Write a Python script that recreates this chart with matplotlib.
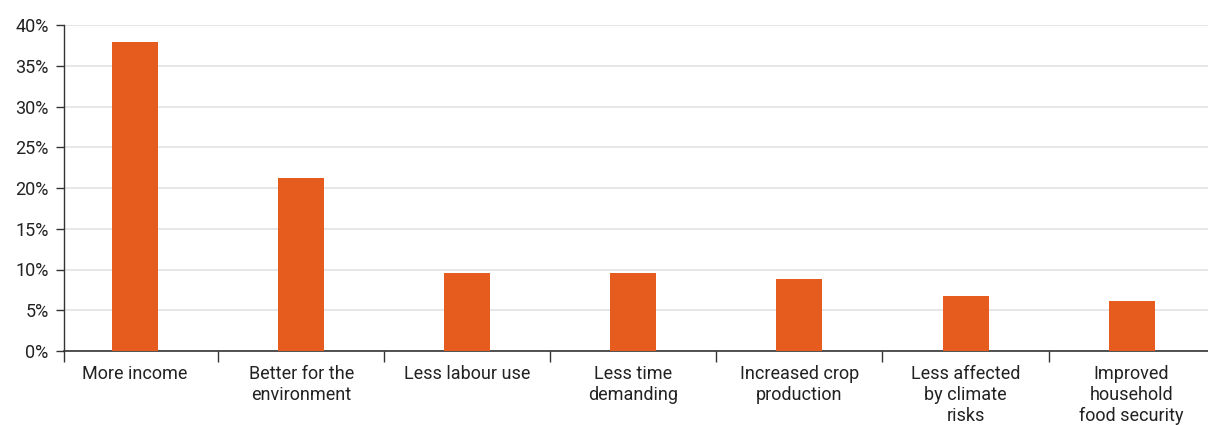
import matplotlib
matplotlib.use("Agg")
import matplotlib.pyplot as plt
from matplotlib.ticker import FixedLocator, NullFormatter

categories = ["More income", "Better for the\nenvironment", "Less labour use",
              "Less time\ndemanding", "Increased crop\nproduction",
              "Less affected\nby climate\nrisks", "Improved\nhousehold\nfood security"]
values = [37.9, 21.2, 9.6, 9.6, 8.8, 6.7, 6.1]
yticks = [0, 5, 10, 15, 20, 25, 30, 35, 40]
ytick_labels = [f"{v}%" for v in yticks]

plt.rcParams['font.family'] = ['Roboto', 'DejaVu Sans']

fig = plt.figure(figsize=(12.08, 4.25), dpi=100)
ax = fig.add_axes([64/1208, 1-351/425, 1-64/1208, (351-25)/425])

x = list(range(len(categories)))
ax.bar(x, values, width=0.277, color="#E65C1E", zorder=3)

ax.set_ylim(0, 40)
ax.set_xlim(-0.428, 6.46)
ax.set_yticks(yticks)
ax.set_yticklabels(ytick_labels, fontsize=13, color="#222222")
ax.yaxis.grid(True, color="#e3e3e3", linewidth=1.2, zorder=0)
ax.tick_params(axis='y', length=6, width=1, color="#333333", pad=5)

ax.set_xticks(x)
ax.set_xticklabels(categories, fontsize=13, color="#222222", linespacing=1.22, va="top")
ax.tick_params(axis='x', which='major', length=0, pad=10)
ax.xaxis.set_minor_locator(FixedLocator([-0.428] + [i + 0.5 for i in range(6)]))
ax.xaxis.set_minor_formatter(NullFormatter())
ax.tick_params(axis='x', which='minor', length=8, width=1, color="#333333")

for s in ["top", "right"]:
    ax.spines[s].set_visible(False)
ax.spines["left"].set_color("#333333")
ax.spines["bottom"].set_color("#333333")
ax.spines["left"].set_linewidth(1)
ax.spines["bottom"].set_linewidth(1.2)

fig.savefig("out.png", dpi=100)
